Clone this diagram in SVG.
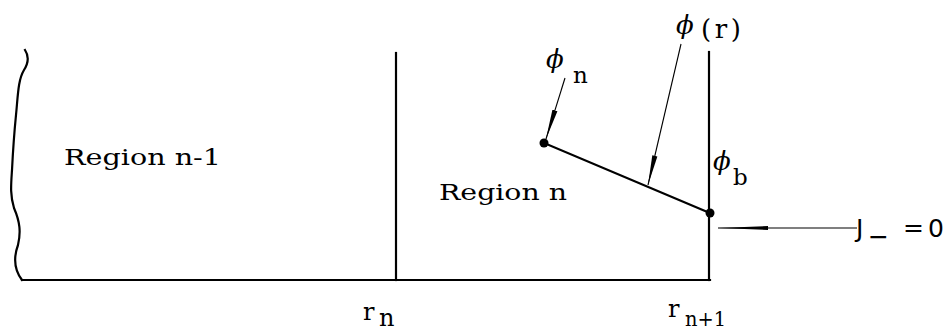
<svg xmlns="http://www.w3.org/2000/svg" width="946" height="331" viewBox="0 0 946 331">
<style>
.ln{fill:none;stroke:#000;stroke-width:2.2;stroke-linecap:square}
.thin{fill:none;stroke:#000;stroke-width:1.1}
.lbl{font-family:"DejaVu Serif",serif;fill:#000}
.phi{font-family:"DejaVu Serif",serif;font-style:italic;font-size:26px;fill:#000}
.sans{font-family:"DejaVu Sans",sans-serif;font-size:25px;fill:#000}
.dot{fill:#000}
</style>
<defs>
<marker id="head" viewBox="0 0 30 6" refX="30" refY="3" markerWidth="30" markerHeight="6" markerUnits="userSpaceOnUse" orient="auto">
<path d="M0,0.4 L30,3 L0,5.6 Z" fill="#000"/>
</marker>
<marker id="headLong" viewBox="0 0 50 6" refX="50" refY="3" markerWidth="50" markerHeight="6" markerUnits="userSpaceOnUse" orient="auto">
<path d="M0,1 L50,3 L0,5 Z" fill="#000"/>
</marker>
</defs>
<rect width="946" height="331" fill="#fff"/>

<g id="domain">
<path class="ln" d="M25,50 C29,56 29,62 24,70 C18,80 18,95 16,115 C14,135 13,150 12,170 C11,185 10,195 14,208 C20,222 21,232 18,245 C14,256 13,268 22,280"/>
<path class="ln" d="M22,280 L710,280"/>
</g>

<g id="region-n-1">
<text class="lbl" x="64" y="165" font-size="22" textLength="157" lengthAdjust="spacingAndGlyphs">Region n-1</text>
</g>

<g id="boundary-rn">
<path class="ln" d="M396,53 L396,280"/>
<text class="lbl" x="363" y="320" font-size="24">r</text>
<text class="lbl" x="379" y="326" font-size="24">n</text>
</g>

<g id="region-n">
<text class="lbl" x="439" y="200" font-size="22" textLength="128" lengthAdjust="spacingAndGlyphs">Region n</text>
</g>

<g id="boundary-rn1">
<path class="ln" d="M709,52 L709,280"/>
<text class="lbl" x="668" y="317" font-size="24">r</text>
<text class="lbl" x="685" y="326" font-size="21" textLength="41" lengthAdjust="spacingAndGlyphs">n+1</text>
</g>

<g id="flux-profile">
<path class="ln" d="M544,143 L710,213"/>
<circle class="dot" cx="544" cy="143" r="4.5"/>
<circle class="dot" cx="710" cy="213" r="4.5"/>
</g>

<g id="label-phi-n">
<text class="phi" x="546" y="68">ϕ</text>
<text class="lbl" x="573" y="83" font-size="23">n</text>
</g>

<g id="label-phi-r">
<text class="phi" x="676" y="34">ϕ</text>
<text class="lbl" x="701" y="38" font-size="26" textLength="40" lengthAdjust="spacing">(r)</text>
</g>

<g id="label-phi-b">
<text class="phi" x="713" y="170">ϕ</text>
<text class="lbl" x="733" y="185" font-size="23">b</text>
</g>

<g id="label-J">
<text class="sans"><tspan x="856" y="237">J</tspan><tspan x="868" y="245">−</tspan><tspan x="903" y="236">=</tspan><tspan x="928" y="237">0</tspan></text>
</g>

<g id="connectors">
<path class="thin" d="M565,78 L546,139" marker-end="url(#head)"/>
<path class="thin" d="M681,44 L648,185" marker-end="url(#head)"/>
<path class="thin" d="M857,228 L718,228" marker-end="url(#headLong)"/>
</g>
</svg>
